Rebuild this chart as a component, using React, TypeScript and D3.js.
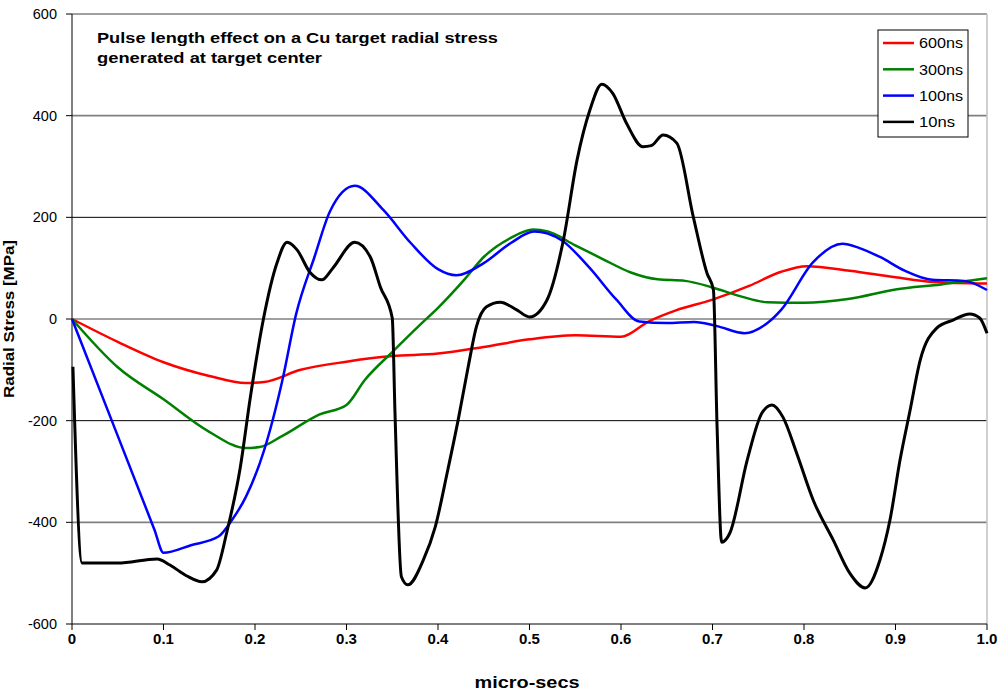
import React from 'react';
import * as d3 from 'd3';

// time in micro-secs, radial stress in MPa
const pulse600ns: [number, number][] = [
  [0, 0], [0.05, -45], [0.1, -85], [0.15, -112], [0.19, -126], [0.21, -124], [0.25, -100],
  [0.3, -84], [0.35, -73], [0.4, -68], [0.45, -55], [0.5, -40], [0.55, -32], [0.6, -35],
  [0.63, -5], [0.66, 17], [0.7, 38], [0.74, 65], [0.775, 93], [0.803, 104], [0.85, 95],
  [0.9, 82], [0.94, 73], [1.0, 70],
];

const pulse300ns: [number, number][] = [
  [0, 0], [0.05, -95], [0.1, -158], [0.15, -222], [0.19, -254], [0.205, -252], [0.23, -230],
  [0.27, -188], [0.3, -169], [0.32, -120], [0.35, -65], [0.38, -12], [0.4, 22], [0.43, 80],
  [0.45, 122], [0.48, 160], [0.504, 176], [0.52, 172], [0.55, 145], [0.58, 118], [0.61, 92],
  [0.64, 78], [0.67, 75], [0.7, 62], [0.73, 45], [0.76, 33], [0.8, 32], [0.85, 40],
  [0.9, 58], [0.95, 68], [1.0, 80],
];

const pulse100ns: [number, number][] = [
  [0, 0], [0.05, -230], [0.09, -414], [0.1, -460], [0.13, -445], [0.16, -428], [0.175, -395],
  [0.19, -350], [0.21, -258], [0.23, -120], [0.245, 10], [0.265, 122], [0.282, 212],
  [0.309, 262], [0.34, 215], [0.37, 150], [0.4, 98], [0.42, 86], [0.45, 110], [0.48, 150],
  [0.505, 172], [0.535, 155], [0.565, 102], [0.595, 38], [0.62, -5], [0.65, -8], [0.68, -6],
  [0.705, -14], [0.735, -28], [0.76, -8], [0.775, 18], [0.81, 112], [0.842, 148], [0.86, 140],
  [0.883, 122], [0.91, 95], [0.94, 77], [0.975, 75], [1.0, 57],
];

const pulse10ns: [number, number][] = [
  [0.001, -94], [0.011, -480], [0.05, -480], [0.093, -472], [0.107, -484], [0.125, -505],
  [0.142, -517], [0.158, -494], [0.169, -421], [0.184, -291], [0.195, -153], [0.209, -2],
  [0.224, 110], [0.235, 151], [0.246, 136], [0.26, 92], [0.273, 77], [0.285, 100],
  [0.309, 151], [0.326, 122], [0.337, 63], [0.35, 2], [0.353, -185], [0.36, -507],
  [0.367, -523], [0.384, -474], [0.397, -409], [0.41, -303], [0.422, -199], [0.433, -94],
  [0.442, -15], [0.453, 24], [0.468, 33], [0.486, 18], [0.5, 4], [0.519, 37], [0.537, 155],
  [0.552, 313], [0.566, 411], [0.579, 462], [0.591, 444], [0.606, 385], [0.624, 339],
  [0.633, 341], [0.646, 362], [0.661, 346], [0.679, 201], [0.694, 90], [0.701, 57],
  [0.705, -212], [0.71, -439], [0.719, -421], [0.738, -277], [0.754, -185], [0.765, -169],
  [0.777, -193], [0.792, -264], [0.81, -356], [0.832, -435], [0.85, -500], [0.867, -529],
  [0.883, -474], [0.894, -395], [0.905, -277], [0.916, -179], [0.927, -81], [0.945, -18],
  [0.963, -2], [0.981, 10], [0.992, 2], [1.0, -28],
];

const seriesNames = ['600ns', '300ns', '100ns', '10ns'];
const seriesColors = ['#ff0000', '#008000', '#0000ff', '#000000'];
const seriesData = [pulse600ns, pulse300ns, pulse100ns, pulse10ns];

const xTicks = [0, 0.1, 0.2, 0.3, 0.4, 0.5, 0.6, 0.7, 0.8, 0.9, 1.0];
const yTicks = [-600, -400, -200, 0, 200, 400, 600];

const titleLines = [
  'Pulse length effect on a Cu target radial stress',
  'generated at target center',
];

const W = 1003;
const H = 696;
const margin = { left: 72, right: 16, top: 14, bottom: 72 };

export default function App() {
  const x = d3.scaleLinear().domain([0, 1]).range([margin.left, W - margin.right]);
  const y = d3.scaleLinear().domain([-600, 600]).range([H - margin.bottom, margin.top]);

  const line = d3.line<[number, number]>()
    .x(d => x(d[0]))
    .y(d => y(d[1]))
    .curve(d3.curveMonotoneX);

  const font = 'Arial, "Liberation Sans", sans-serif';
  const legendLen = [44, 44, 44, 36];
  const titleLen = [401, 225];

  return (
    <svg width={W} height={H} style={{ position: 'absolute', left: 0, top: 0, background: '#fff' }}>
      {/* gridlines */}
      {yTicks.filter(t => t > -600).map(t => (
        <line key={t} x1={x(0)} x2={x(1)} y1={y(t)} y2={y(t)}
          stroke={t === 200 || t === -200 ? '#000' : '#808080'}
          strokeWidth={t === 200 || t === -200 ? 1 : 1.6} />
      ))}
      <line x1={x(1)} x2={x(1)} y1={y(600)} y2={y(-600)} stroke="#c0c0c0" strokeWidth={1.5} />

      {/* axes */}
      <line x1={x(0)} x2={x(0)} y1={y(600)} y2={y(-600)} stroke="#000" strokeWidth={1} />
      <line x1={x(0)} x2={x(1)} y1={y(-600)} y2={y(-600)} stroke="#000" strokeWidth={1.2} />
      {yTicks.map(t => (
        <g key={t}>
          <line x1={x(0) - 6} x2={x(0)} y1={y(t)} y2={y(t)} stroke="#000" />
          <text x={57} y={y(t)} dy="0.35em" textAnchor="end" fontFamily={font} fontSize={14.5} fill="#000">
            {t}
          </text>
        </g>
      ))}
      {xTicks.map(t => (
        <g key={t}>
          <line x1={x(t)} x2={x(t)} y1={y(-600)} y2={y(-600) + 6} stroke="#000" />
          <text x={x(t)} y={y(-600) + 15} dy="0.35em" textAnchor="middle"
            fontFamily='"Liberation Sans Narrow", "Arial Narrow", Arial, sans-serif'
            fontWeight="bold" fontSize={15} fill="#000">
            {t === 0 ? '0' : t.toFixed(1)}
          </text>
        </g>
      ))}

      {/* series */}
      {seriesData.map((s, i) => (
        <path key={seriesNames[i]} d={line(s) ?? ''} fill="none"
          stroke={seriesColors[i]} strokeWidth={i === 3 ? 3 : 2.5} strokeLinejoin="round" />
      ))}

      {/* title */}
      {titleLines.map((l, i) => (
        <text key={i} x={97} y={43 + i * 20} fontFamily={font} fontWeight="bold" fontSize={15.5} fill="#000"
          textLength={titleLen[i]} lengthAdjust="spacingAndGlyphs">
          {l}
        </text>
      ))}

      {/* axis titles */}
      <text x={527} y={688} textAnchor="middle" fontFamily={font}
        fontWeight="bold" fontSize={16} fill="#000" textLength={105} lengthAdjust="spacingAndGlyphs">micro-secs</text>
      <text transform={`translate(14,${y(0)}) rotate(-90)`} textAnchor="middle" fontFamily={font}
        fontWeight="bold" fontSize={15} fill="#000" textLength={158} lengthAdjust="spacingAndGlyphs">Radial Stress [MPa]</text>

      {/* legend */}
      <g>
        <rect x={878} y={30} width={90} height={107} fill="#fff" stroke="#000" strokeWidth={1} />
        {seriesNames.map((n, i) => (
          <g key={n}>
            <line x1={883} x2={914} y1={43 + i * 26.3} y2={43 + i * 26.3}
              stroke={seriesColors[i]} strokeWidth={2.5} />
            <text x={919} y={43 + i * 26.3} dy="0.35em" fontFamily={font} fontSize={15} fill="#000"
              textLength={legendLen[i]} lengthAdjust="spacingAndGlyphs">{n}</text>
          </g>
        ))}
      </g>
    </svg>
  );
}
